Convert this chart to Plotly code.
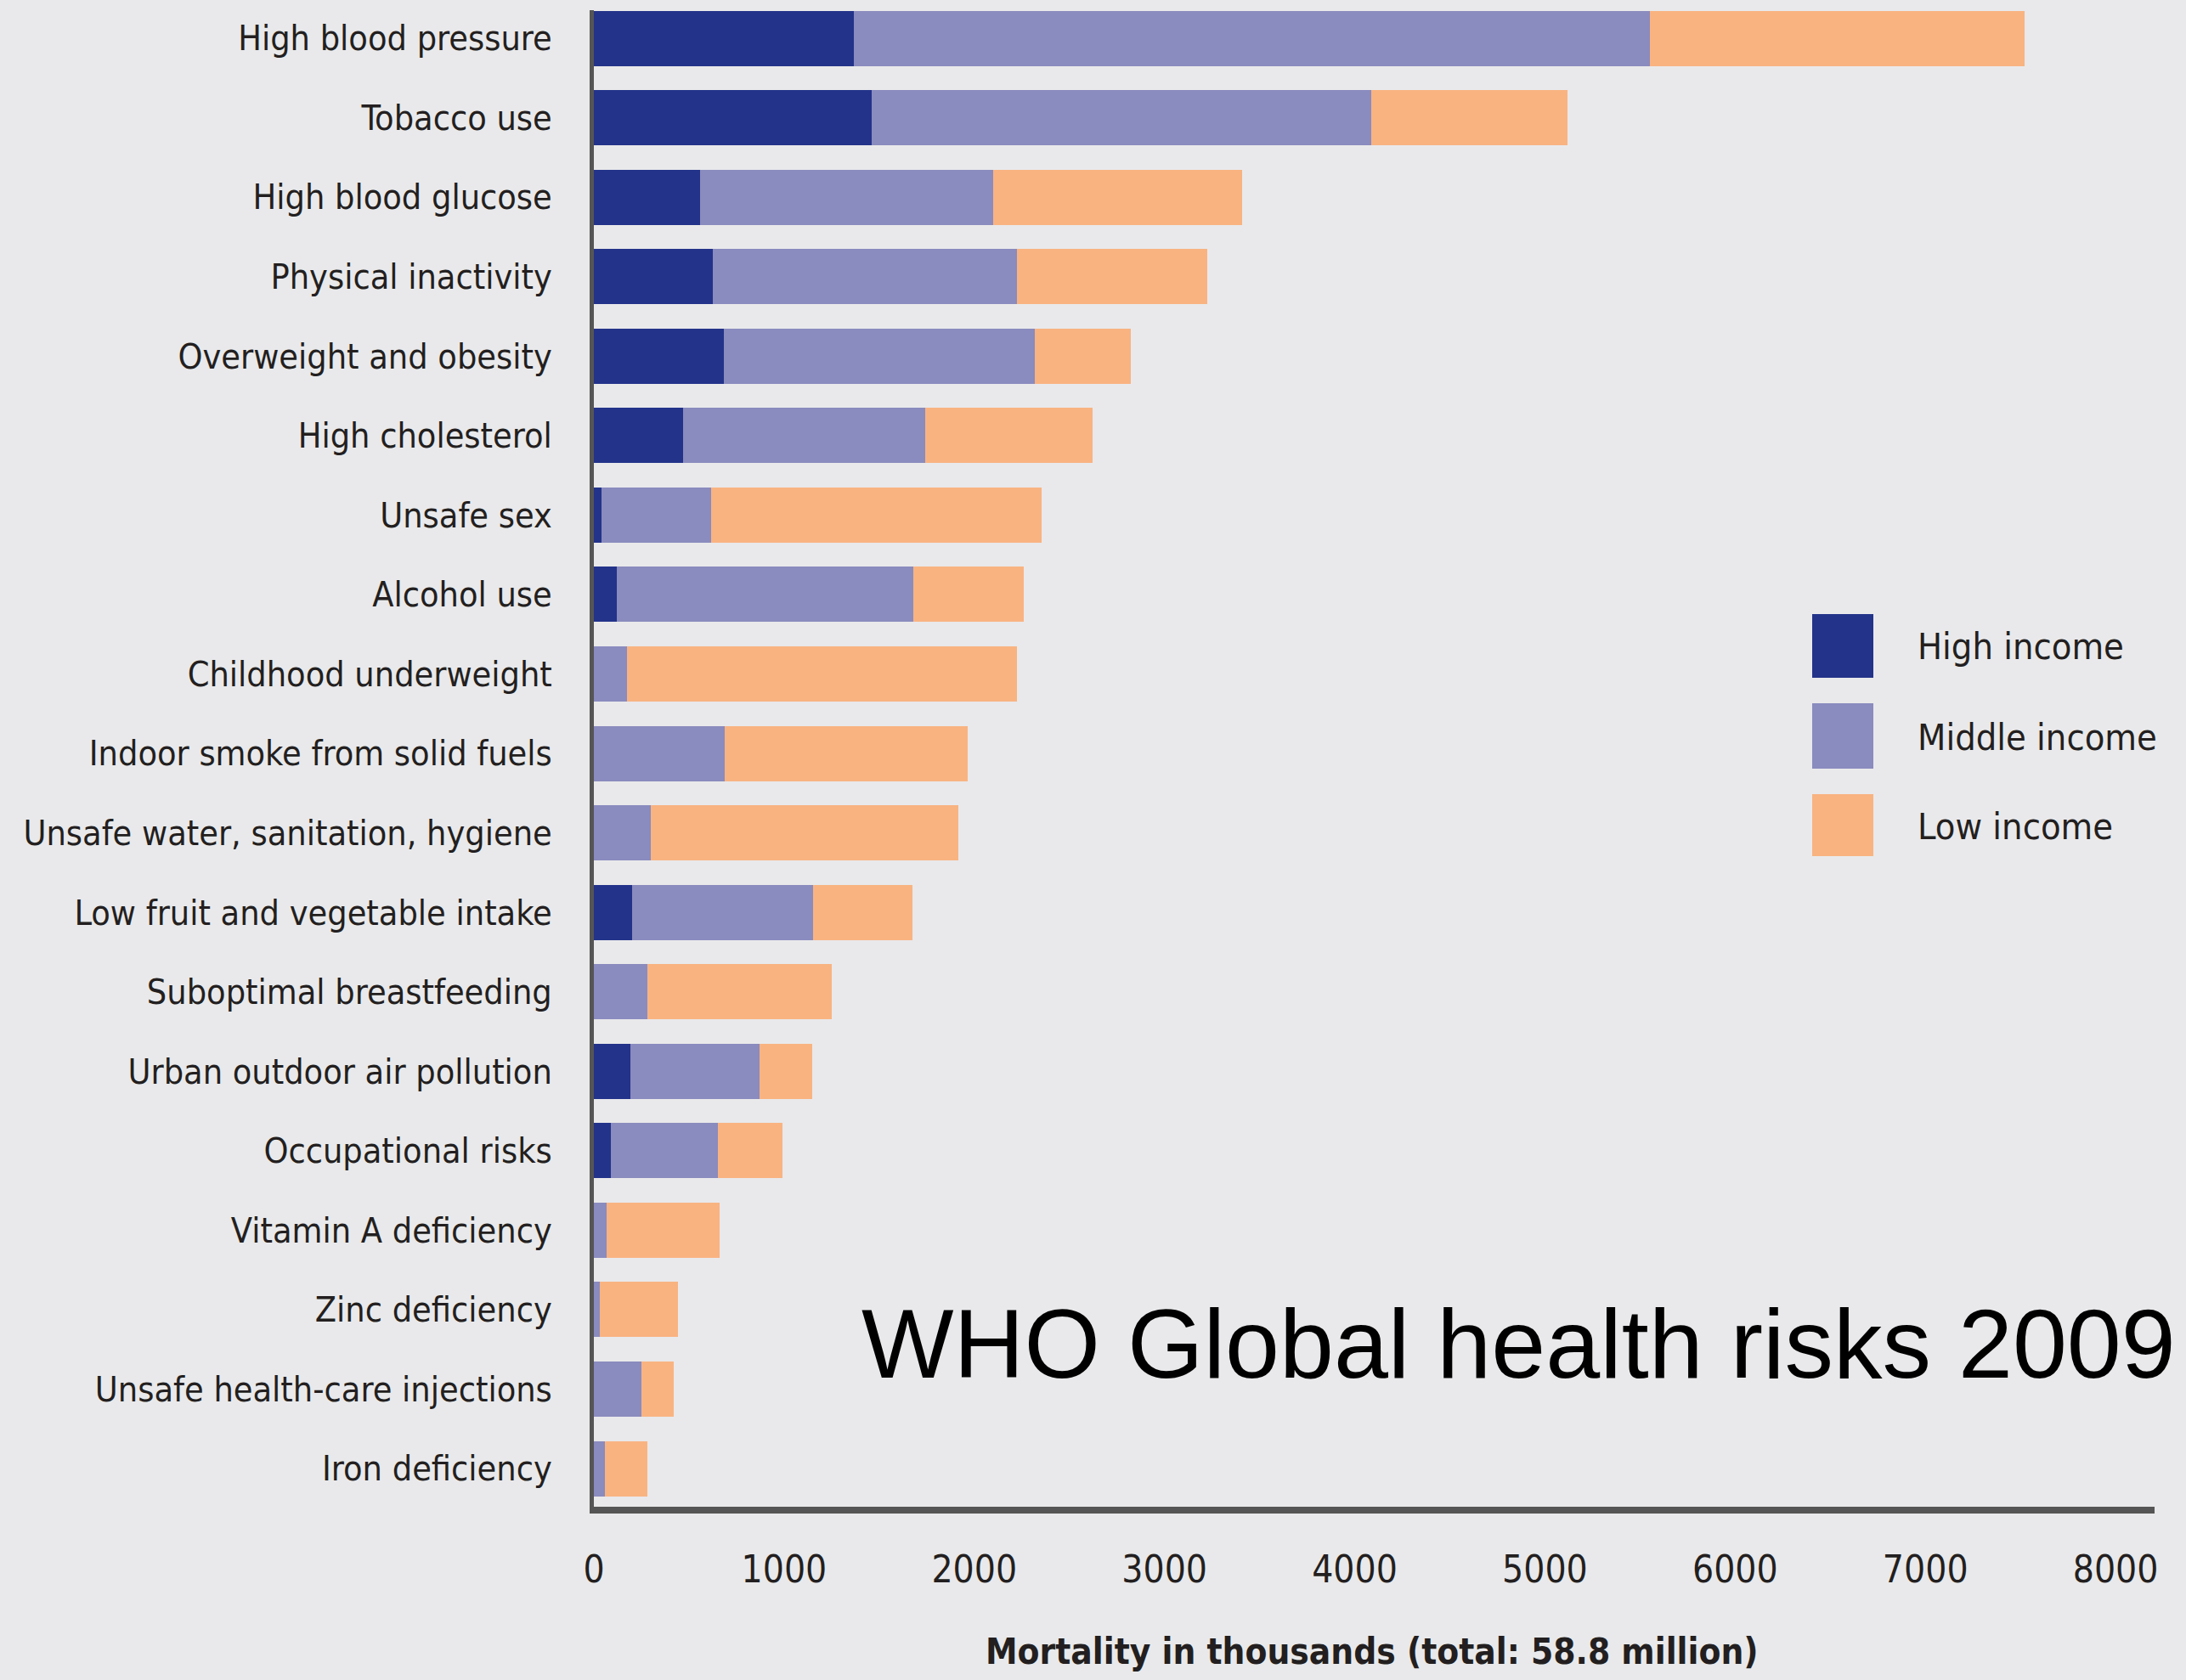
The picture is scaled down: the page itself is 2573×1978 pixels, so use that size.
import plotly.graph_objects as go

risks = [
    "High blood pressure", "Tobacco use", "High blood glucose", "Physical inactivity",
    "Overweight and obesity", "High cholesterol", "Unsafe sex", "Alcohol use",
    "Childhood underweight", "Indoor smoke from solid fuels",
    "Unsafe water, sanitation, hygiene", "Low fruit and vegetable intake",
    "Suboptimal breastfeeding", "Urban outdoor air pollution", "Occupational risks",
    "Vitamin A deficiency", "Zinc deficiency", "Unsafe health-care injections",
    "Iron deficiency",
]
high_income = [1366, 1462, 558, 624, 682, 470, 40, 122, 0, 0, 0, 203, 0, 190, 90, 0, 0, 0, 0]
middle_income = [4184, 2623, 1542, 1600, 1636, 1270, 578, 1558, 173, 690, 300, 948, 280, 682, 562, 66, 30, 249, 60]
low_income = [1970, 1035, 1310, 1000, 505, 882, 1735, 578, 2053, 1275, 1615, 524, 970, 278, 338, 594, 410, 169, 220]

series_names = ["High income", "Middle income", "Low income"]
series_values = [high_income, middle_income, low_income]
colors = ["#23338A", "#8A8BBE", "#F9B381"]

x_ticks = [0, 1000, 2000, 3000, 4000, 5000, 6000, 7000, 8000]
x_title = "Mortality in thousands (total: 58.8 million)"
chart_title = "WHO Global health risks 2009"

W, H = 2573, 1978
L, R, T, B = 699, 37, 12, 204
pw, ph = W - L - R, H - T - B

def px_x(p):
    return (p - L) / pw

def px_y(p):
    return (H - B - p) / ph

narrow = "DejaVu Sans Condensed, Liberation Sans Narrow, sans-serif"
txt = "#231f20"

fig = go.Figure()
for name, vals, col in zip(series_names, series_values, colors):
    fig.add_trace(go.Bar(
        y=risks, x=vals, name=name, orientation="h",
        marker=dict(color=col, line=dict(width=0)),
        showlegend=False,
    ))

shapes = []
annotations = []
leg_y = [(723, 798), (828, 905), (935, 1008)]
for (y0, y1), name, col in zip(leg_y, series_names, colors):
    shapes.append(dict(type="rect", xref="paper", yref="paper",
                       x0=px_x(2133), x1=px_x(2205), y0=px_y(y1), y1=px_y(y0),
                       fillcolor=col, line=dict(width=0)))
    annotations.append(dict(text=name, xref="paper", yref="paper",
                            x=px_x(2255), y=px_y((y0 + y1) / 2 + 1),
                            xanchor="left", yanchor="middle", showarrow=False,
                            font=dict(family=narrow, size=43, color=txt)))

annotations.append(dict(text=chart_title, xref="paper", yref="paper",
                        x=px_x(1012), y=px_y(1582), xanchor="left", yanchor="middle",
                        showarrow=False,
                        font=dict(family="Liberation Sans, Arial, sans-serif", size=115, color="#000000")))

annotations.append(dict(text="<b>" + x_title + "</b>", xref="paper", yref="paper",
                        x=px_x(1615), y=px_y(1945), xanchor="center", yanchor="middle",
                        showarrow=False,
                        font=dict(family=narrow, size=42, color=txt)))

fig.update_layout(
    width=W, height=H,
    margin=dict(l=L, r=R, t=T, b=B, pad=0),
    barmode="stack", bargap=0.305,
    paper_bgcolor="#E9E9EB", plot_bgcolor="#E9E9EB",
    shapes=shapes, annotations=annotations,
    xaxis=dict(
        range=[0, 8205], tickvals=x_ticks, ticktext=[str(v) for v in x_ticks],
        showgrid=False, zeroline=False, automargin=False,
        showline=True, linecolor="#555555", linewidth=8,
        ticks="", ticklabelstandoff=28,
        tickfont=dict(family=narrow, size=44, color=txt),
    ),
    yaxis=dict(
        categoryorder="array", categoryarray=risks,
        range=[18.48, -0.353], automargin=False,
        showgrid=False, zeroline=False,
        showline=True, linecolor="#555555", linewidth=5,
        ticks="", ticklabelstandoff=36,
        tickfont=dict(family=narrow, size=41, color=txt),
    ),
)

fig.write_html("out.html")
